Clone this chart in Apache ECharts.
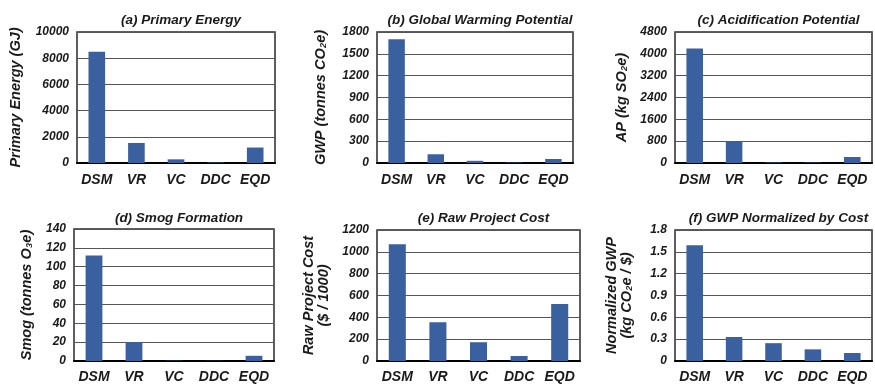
<!DOCTYPE html>
<html>
<head>
<meta charset="utf-8">
<script src="https://cdn.jsdelivr.net/npm/echarts@6/dist/echarts.min.js"></script>
<style>
  html, body { margin: 0; padding: 0; background: #fff; }
  #chart { width: 875px; height: 384px; }
</style>
</head>
<body>
<div id="chart"></div>
<script>
// Alternatives compared across six impact and cost metrics
const categories = ['DSM', 'VR', 'VC', 'DDC', 'EQD'];

const primaryEnergy = [8500, 1530, 280, 40, 1180];   // GJ
const gwp           = [1700, 120, 30, 6, 55];         // tonnes CO2e
const acidification = [4200, 800, 20, 15, 220];       // kg SO2e
const smog          = [112, 20, 0.3, 0.2, 5.5];       // tonnes O3e
const rawCost       = [1070, 355, 172, 46, 523];      // $ / 1000
const gwpPerCost    = [1.59, 0.33, 0.245, 0.16, 0.11]; // kg CO2e / $

const panelTitles = [
  '(a) Primary Energy',
  '(b) Global Warming Potential',
  '(c) Acidification Potential',
  '(d) Smog Formation',
  '(e) Raw Project Cost',
  '(f) GWP Normalized by Cost'
];
const axisNames = [
  'Primary Energy (GJ)',
  'GWP (tonnes CO\u2082e)',
  'AP (kg SO\u2082e)',
  'Smog (tonnes O\u2083e)',
  'Raw Project Cost\n($ / 1000)',
  'Normalized GWP\n(kg CO\u2082e / $)'
];
const axisMax  = [10000, 1800, 4800, 140, 1200, 1.8];
const axisStep = [2000, 300, 800, 20, 200, 0.3];

const seriesData = [primaryEnergy, gwp, acidification, smog, rawCost, gwpPerCost];

// panel layout
const grids = [
  { left: 77,  top: 32,  width: 198, height: 131 },
  { left: 377, top: 32,  width: 196, height: 131 },
  { left: 675, top: 32,  width: 197, height: 131 },
  { left: 74,  top: 229, width: 200, height: 132 },
  { left: 377, top: 230, width: 203, height: 131 },
  { left: 675, top: 230, width: 197, height: 131 }
];
const nameGaps = [54, 49, 46, 40, 46, 41];

const FONT = 'Liberation Sans, Arial, sans-serif';
const TEXT = '#1a1a1a';
const BAR = '#3b60a0';

const option = {
  backgroundColor: '#ffffff',
  animation: false,
  title: panelTitles.map((t, i) => ({
    text: t,
    left: grids[i].left + grids[i].width / 2,
    top: i < 3 ? 8 : 206,
    textAlign: 'center',
    textStyle: { fontFamily: FONT, fontSize: 13.5, fontWeight: 'bold', fontStyle: 'italic', color: TEXT }
  })),
  grid: grids.map(g => Object.assign({
    show: true, borderColor: '#2a2a2a', borderWidth: 1.5, backgroundColor: 'transparent'
  }, g)),
  xAxis: grids.map((g, i) => ({
    type: 'category',
    gridIndex: i,
    data: categories,
    axisTick: { show: false },
    axisLine: { show: true, lineStyle: { color: '#000', width: 2 } },
    axisLabel: {
      interval: 0,
      hideOverlap: false,
      margin: i < 3 ? 10 : 9,
      fontFamily: FONT, fontSize: 14, fontWeight: 'bold', fontStyle: 'italic', color: TEXT
    }
  })),
  yAxis: grids.map((g, i) => ({
    type: 'value',
    gridIndex: i,
    min: 0,
    max: axisMax[i],
    interval: axisStep[i],
    name: axisNames[i],
    nameLocation: 'middle',
    nameRotate: 90,
    nameGap: nameGaps[i],
    nameTextStyle: {
      fontFamily: FONT, fontSize: 14.5, fontWeight: 'bold', fontStyle: 'italic', color: TEXT,
      lineHeight: 15, align: 'center'
    },
    axisLine: { show: false },
    axisTick: { show: false },
    splitLine: { show: true, lineStyle: { color: '#555', width: 1 } },
    axisLabel: {
      margin: 8,
      fontFamily: FONT, fontSize: 12, fontWeight: 'bold', fontStyle: 'italic', color: TEXT,
      formatter: v => (i === 5 ? (v === 0 ? '0' : v.toFixed(1)) : String(v))
    }
  })),
  series: seriesData.map((d, i) => ({
    type: 'bar',
    xAxisIndex: i,
    yAxisIndex: i,
    data: d,
    barWidth: '42%',
    itemStyle: { color: BAR },
    silent: true
  }))
};

const chart = echarts.init(document.getElementById('chart'), null, { renderer: 'canvas' });
chart.setOption(option);
</script>
</body>
</html>
